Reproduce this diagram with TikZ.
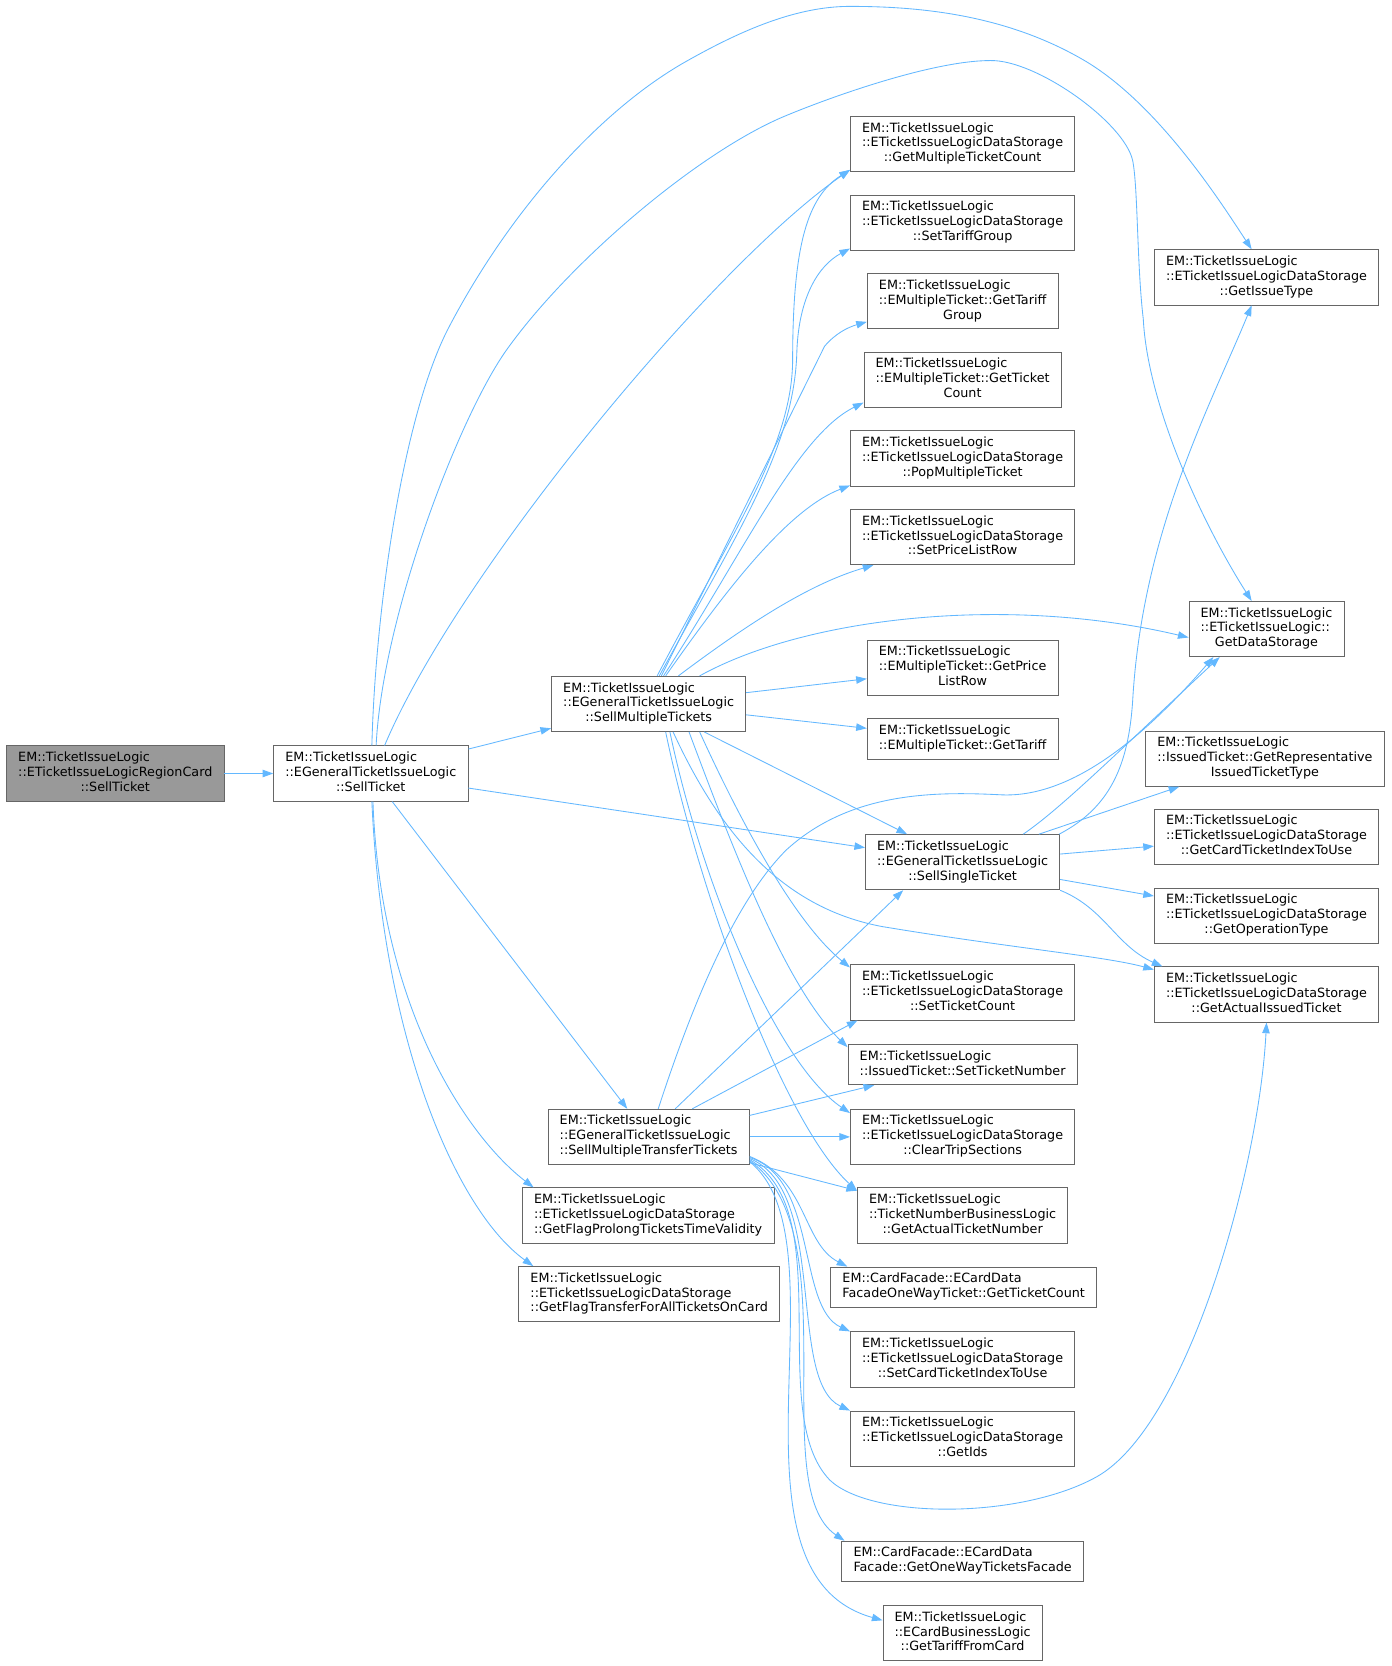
\documentclass[tikz,border=0pt]{standalone}
\usepackage{fontspec}
\setmainfont{DejaVu Sans}
\usetikzlibrary{arrows.meta}
\definecolor{edgeblue}{HTML}{63B8FF}
\definecolor{boxline}{HTML}{666666}
\definecolor{rootfill}{HTML}{999999}
% three and two line labels, last line centred
\newcommand{\tri}[3]{\begin{tabular}{@{}l@{}}#1\\#2\\\multicolumn{1}{@{}c@{}}{#3}\end{tabular}}
\newcommand{\duo}[2]{\begin{tabular}{@{}l@{}}#1\\\multicolumn{1}{@{}c@{}}{#2}\end{tabular}}
\newcommand{\dsl}[1]{\tri{EM::TicketIssueLogic}{::ETicketIssueLogicDataStorage}{#1}}
\tikzset{
  box/.style={draw=boxline,fill=white,line width=0.8pt,inner xsep=11pt,inner ysep=5pt,
    font=\fontsize{12}{14}\selectfont},
  root/.style={box,fill=rootfill},
  edge/.style={draw=edgeblue,line width=0.8pt,-{Triangle[length=10pt,width=7pt]}}
}
\begin{document}
\begin{tikzpicture}[x=1pt,y=-1pt]
  \fill[white] (0,0) rectangle (1310,1568);
  \useasboundingbox (0,0) rectangle (1310,1568);
  \node[root] (A) at (108.5,728) {\tri{EM::TicketIssueLogic}{::ETicketIssueLogicRegionCard}{::SellTicket}};
  \node[box] (B) at (349,728) {\tri{EM::TicketIssueLogic}{::EGeneralTicketIssueLogic}{::SellTicket}};
  \node[box] (C) at (610.5,662.5) {\tri{EM::TicketIssueLogic}{::EGeneralTicketIssueLogic}{::SellMultipleTickets}};
  \node[box] (T) at (610.5,1070) {\tri{EM::TicketIssueLogic}{::EGeneralTicketIssueLogic}{::SellMultipleTransferTickets}};
  \node[box] (FP) at (610,1144) {\dsl{::GetFlagProlongTicketsTimeValidity}};
  \node[box] (FT) at (611,1218) {\dsl{::GetFlagTransferForAllTicketsOnCard}};
  % middle column
  \node[box] (GMTC) at (906,135.5) {\dsl{::GetMultipleTicketCount}};
  \node[box] (STG) at (906,209.5) {\dsl{::SetTariffGroup}};
  \node[box] (GTG) at (906,283.5) {\tri{EM::TicketIssueLogic}{::EMultipleTicket::GetTariff}{Group}};
  \node[box] (GTC) at (906,357.5) {\tri{EM::TicketIssueLogic}{::EMultipleTicket::GetTicket}{Count}};
  \node[box] (PMT) at (906,431.5) {\dsl{::PopMultipleTicket}};
  \node[box] (SPLR) at (906,505.5) {\dsl{::SetPriceListRow}};
  \node[box] (GPLR) at (906,628.5) {\tri{EM::TicketIssueLogic}{::EMultipleTicket::GetPrice}{ListRow}};
  \node[box] (GT) at (906,695.5) {\duo{EM::TicketIssueLogic}{::EMultipleTicket::GetTariff}};
  \node[box] (S) at (906,811.5) {\tri{EM::TicketIssueLogic}{::EGeneralTicketIssueLogic}{::SellSingleTicket}};
  \node[box] (STC) at (906,934) {\dsl{::SetTicketCount}};
  \node[box] (STN) at (906,1002) {\duo{EM::TicketIssueLogic}{::IssuedTicket::SetTicketNumber}};
  \node[box] (CTS) at (906,1070) {\dsl{::ClearTripSections}};
  \node[box] (GATN) at (906,1144) {\tri{EM::TicketIssueLogic}{::TicketNumberBusinessLogic}{::GetActualTicketNumber}};
  \node[box] (CFGTC) at (907,1211.5) {\duo{EM::CardFacade::ECardData}{FacadeOneWayTicket::GetTicketCount}};
  \node[box] (SCTI) at (906,1279.5) {\dsl{::SetCardTicketIndexToUse}};
  \node[box] (GIds) at (906,1354) {\dsl{::GetIds}};
  \node[box] (GOWTF) at (906,1469.5) {\duo{EM::CardFacade::ECardData}{Facade::GetOneWayTicketsFacade}};
  \node[box] (GTFC) at (906,1537) {\tri{EM::TicketIssueLogic}{::ECardBusinessLogic}{::GetTariffFromCard}};
  % right column
  \node[box] (GIT) at (1192,261) {\dsl{::GetIssueType}};
  \node[box] (GDS) at (1192,592) {\tri{EM::TicketIssueLogic}{::ETicketIssueLogic::}{GetDataStorage}};
  \node[box] (GRIT) at (1190.5,714) {\tri{EM::TicketIssueLogic}{::IssuedTicket::GetRepresentative}{IssuedTicketType}};
  \node[box] (GCTI) at (1192,787.5) {\dsl{::GetCardTicketIndexToUse}};
  \node[box] (GOT) at (1192,862) {\dsl{::GetOperationType}};
  \node[box] (GAIT) at (1192,936) {\dsl{::GetActualIssuedTicket}};
  \begin{scope}[edge]
    \draw (A) -- (B);
    % from SellTicket
    \draw (B) -- (C);
    \draw (B) -- (S);
    \draw (B) -- (T);
    \draw ([xshift=1pt]B.north) .. controls (353,580) and (378,392) .. (423,307)
      .. controls (483,193) and (569,100) .. (649,56)
      .. controls (699,28) and (750,6) .. (800,6)
      .. controls (870,6) and (948,15) .. (1019,56)
      .. controls (1090,97) and (1150,192) .. ([xshift=-14pt]GIT.north);
    \draw ([xshift=5pt]B.north) .. controls (360,580) and (432,392) .. (477,329)
      .. controls (537,245) and (657,144) .. (737,110)
      .. controls (787,89) and (880,57) .. (932,57)
      .. controls (975,56) and (1058,115) .. (1066,151)
      .. controls (1071,175) and (1070,250) .. (1076,300)
      .. controls (1080,380) and (1130,490) .. ([xshift=-14pt]GDS.north);
    \draw ([xshift=13pt]B.north) .. controls (430,540) and (670,250) .. ([yshift=2pt]GMTC.south west);
    \draw ([xshift=2pt]B.south) .. controls (358,950) and (440,1070) .. ([xshift=11pt]FP.north west);
    \draw ([xshift=1pt]B.south) .. controls (360,980) and (430,1140) .. ([xshift=14pt]FT.north west);
    % from SellMultipleTickets
    \draw ([xshift=8pt]C.north) .. controls (690,500) and (745,420) .. (746,340)
      .. controls (746,230) and (760,185) .. ([yshift=2pt]GMTC.south west);
    \draw ([xshift=10pt]C.north) .. controls (695,500) and (748,420) .. (750,330)
      .. controls (752,280) and (770,250) .. ([yshift=2pt]STG.south west);
    \draw ([xshift=12pt]C.north) -- (776,326) .. controls (786,314) and (798,308) .. ([yshift=7pt]GTG.south west);
    \draw ([xshift=14pt]C.north) .. controls (700,520) and (750,410) .. ([yshift=5pt]GTC.south west);
    \draw ([xshift=16pt]C.north) .. controls (680,560) and (740,480) .. ([yshift=1pt]PMT.south west);
    \draw ([xshift=28pt]C.north) .. controls (700,590) and (760,550) .. ([xshift=22pt]SPLR.south west);
    \draw ([xshift=48pt]C.north) .. controls (760,580) and (950,560) .. ([yshift=-8pt]GDS.west);
    \draw (C) -- (GPLR);
    \draw (C) -- (GT);
    \draw (C) -- (S);
    \draw ([xshift=48pt]C.south) .. controls (700,780) and (750,870) .. ([yshift=-3pt]STC.north west);
    \draw ([xshift=38pt]C.south) .. controls (690,800) and (740,930) .. ([yshift=-3pt]STN.north west);
    \draw ([xshift=20pt]C.south) .. controls (660,830) and (730,1000) .. ([yshift=-4pt]CTS.north west);
    \draw ([xshift=16pt]C.south) .. controls (660,850) and (740,1060) .. ([yshift=-3pt]GATN.north west);
    \draw ([xshift=23pt]C.south) .. controls (680,790) and (740,855) .. (830,872)
      .. controls (950,892) and (1040,900) .. ([yshift=-3pt]GAIT.north west);
    % from SellSingleTicket
    \draw ([xshift=-1pt]S.north east) .. controls (1045,760) and (1062,720) .. (1066,660)
      .. controls (1075,500) and (1140,380) .. ([xshift=-14pt]GIT.south);
    \draw ([xshift=57pt]S.north) .. controls (1000,760) and (1060,700) .. ([xshift=-44pt]GDS.south);
    \draw ([xshift=-20pt]S.north east) -- ([xshift=32pt]GRIT.south west);
    \draw (S) -- (GCTI);
    \draw (S) -- (GOT);
    \draw (S.south east) .. controls (1040,855) and (1050,890) .. ([xshift=8pt]GAIT.north west);
    % from SellMultipleTransferTickets
    \draw ([xshift=9pt]T.north) .. controls (650,950) and (690,850) .. (740,800)
      .. controls (800,745) and (880,745) .. (941,748)
      .. controls (1010,752) and (1080,690) .. ([xshift=-50pt]GDS.south);
    \draw ([xshift=25pt]T.north) -- ([xshift=-56pt]S.south);
    \draw ([xshift=41pt]T.north) -- ([xshift=7pt]STC.south west);
    \draw (T.12) -- ([xshift=25pt]STN.south west);
    \draw (T) -- (CTS);
    \draw ([yshift=2pt]T.south east) -- ([yshift=-3pt]GATN.north west);
    \draw ([yshift=8pt]T.south east) .. controls (760,1110) and (755,1170) .. ([xshift=16pt]CFGTC.north west);
    \draw ([yshift=7pt]T.south east) .. controls (770,1110) and (750,1230) .. (SCTI.north west);
    \draw ([yshift=6pt]T.south east) .. controls (780,1120) and (740,1300) .. (GIds.north west);
    \draw ([yshift=5pt]T.south east) .. controls (790,1140) and (720,1330) .. (781,1393)
      .. controls (820,1430) and (960,1430) .. (1032,1390)
      .. controls (1118,1342) and (1185,1100) .. (GAIT.south);
    \draw ([yshift=4pt]T.south east) .. controls (800,1160) and (720,1400) .. ([xshift=3pt]GOWTF.north west);
    \draw ([yshift=3pt]T.south east) .. controls (800,1170) and (670,1480) .. ([yshift=12pt]GTFC.west);
  \end{scope}
\end{tikzpicture}
\end{document}
